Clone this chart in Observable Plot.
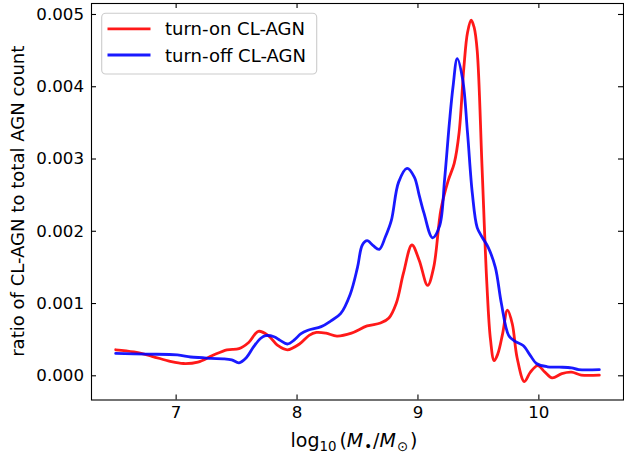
<!DOCTYPE html>
<html>
<head>
<meta charset="utf-8">
<script src="https://cdn.jsdelivr.net/npm/d3@7"></script>
<script src="https://cdn.jsdelivr.net/npm/@observablehq/plot@0.6"></script>
<style>
  html, body { margin: 0; padding: 0; background: white; }
</style>
</head>
<body>
<div id="chart"></div>
<script>
// ---- data (ratio values in units of 1e-3) ----
const seriesNames = ["turn-on CL-AGN", "turn-off CL-AGN"];
const seriesColors = ["#ff0000", "#0000ff"];

const turnOnMass = [6.50, 6.65, 6.80, 6.95, 7.06, 7.18, 7.30, 7.42, 7.52, 7.60, 7.68, 7.76, 7.84, 7.92, 8.02, 8.10, 8.16, 8.24, 8.33, 8.45, 8.58, 8.69, 8.76, 8.82, 8.88, 8.95, 9.01, 9.08, 9.13, 9.19, 9.25, 9.30, 9.34, 9.38, 9.41, 9.44, 9.465, 9.49, 9.53, 9.57, 9.60, 9.63, 9.66, 9.70, 9.74, 9.78, 9.82, 9.88, 9.93, 9.99, 10.05, 10.11, 10.19, 10.27, 10.35, 10.50];
const turnOnRatio = [0.36, 0.33, 0.27, 0.20, 0.17, 0.19, 0.28, 0.36, 0.375, 0.46, 0.615, 0.56, 0.42, 0.36, 0.44, 0.56, 0.60, 0.59, 0.55, 0.59, 0.69, 0.73, 0.80, 1.00, 1.42, 1.81, 1.60, 1.25, 1.50, 2.30, 2.70, 2.94, 3.36, 4.27, 4.75, 4.92, 4.82, 4.50, 2.89, 1.27, 0.50, 0.21, 0.30, 0.58, 0.91, 0.72, 0.25, -0.08, 0.05, 0.14, 0.05, -0.03, 0.03, 0.05, 0.01, 0.01];

const turnOffMass = [6.50, 6.75, 7.01, 7.12, 7.22, 7.29, 7.39, 7.46, 7.52, 7.58, 7.64, 7.70, 7.74, 7.81, 7.86, 7.92, 7.98, 8.03, 8.09, 8.20, 8.28, 8.36, 8.44, 8.50, 8.54, 8.58, 8.63, 8.68, 8.73, 8.78, 8.84, 8.91, 8.97, 9.01, 9.05, 9.12, 9.18, 9.22, 9.26, 9.29, 9.325, 9.37, 9.41, 9.45, 9.49, 9.53, 9.58, 9.64, 9.69, 9.75, 9.80, 9.87, 9.93, 9.98, 10.07, 10.17, 10.27, 10.33, 10.50];
const turnOffRatio = [0.31, 0.30, 0.29, 0.26, 0.25, 0.24, 0.235, 0.22, 0.18, 0.25, 0.40, 0.52, 0.555, 0.54, 0.49, 0.44, 0.50, 0.58, 0.63, 0.68, 0.76, 0.86, 1.13, 1.50, 1.81, 1.87, 1.80, 1.75, 1.92, 2.15, 2.68, 2.87, 2.75, 2.50, 2.25, 1.91, 2.08, 2.71, 3.50, 4.00, 4.39, 4.10, 3.36, 2.52, 2.05, 1.92, 1.78, 1.50, 1.00, 0.56, 0.48, 0.42, 0.28, 0.17, 0.125, 0.12, 0.11, 0.085, 0.085];

const xTicks = [7, 8, 9, 10];
const yTicks = [0, 0.001, 0.002, 0.003, 0.004, 0.005];

// ---- build table ----
const scaleUnit = 1e-3;
const turnOn = turnOnMass.map((m, i) => ({mass: m, ratio: turnOnRatio[i] * scaleUnit}));
const turnOff = turnOffMass.map((m, i) => ({mass: m, ratio: turnOffRatio[i] * scaleUnit}));

const W = 624, H = 457;
const mL = 91, mR = 1, mT = 3, mB = 57.5;
const innerW = W - mL - mR, innerH = H - mT - mB;
const tickLen = 5;

const svg = Plot.plot({
  width: W, height: H,
  marginLeft: mL, marginRight: mR, marginTop: mT, marginBottom: mB,
  x: {domain: [6.3, 10.7]},
  y: {domain: [-0.000335, 0.005152]},
  style: {fontFamily: "DejaVu Sans", fontSize: "16.67px", color: "black", background: "white", overflow: "visible"},
  marks: [
    Plot.line(turnOn, {x: "mass", y: "ratio", stroke: seriesColors[0], strokeWidth: 2.8, strokeOpacity: 0.9, curve: "catmull-rom"}),
    Plot.line(turnOff, {x: "mass", y: "ratio", stroke: seriesColors[1], strokeWidth: 2.8, strokeOpacity: 0.9, curve: "catmull-rom"}),
    // inward ticks on all four sides
    Plot.tickX(xTicks, {x: d => d, insetTop: innerH - tickLen, stroke: "black", strokeWidth: 1.1}),
    Plot.tickX(xTicks, {x: d => d, insetBottom: innerH - tickLen, stroke: "black", strokeWidth: 1.1}),
    Plot.tickY(yTicks, {y: d => d, insetRight: innerW - tickLen, stroke: "black", strokeWidth: 1.1}),
    Plot.tickY(yTicks, {y: d => d, insetLeft: innerW - tickLen, stroke: "black", strokeWidth: 1.1}),
    Plot.axisX(xTicks, {tickSize: 0, tickPadding: 6, label: null, tickFormat: d => String(d)}),
    Plot.axisY(yTicks, {tickSize: 0, tickPadding: 7.5, label: null, tickFormat: d3.format(".3f")}),
    Plot.frame({stroke: "black", strokeWidth: 1.1})
  ]
});

const s = d3.select(svg);
const font = "DejaVu Sans";

// y label
s.append("text")
  .attr("transform", `translate(24,${mT + innerH / 2}) rotate(-90)`)
  .attr("text-anchor", "middle")
  .attr("font-family", font)
  .attr("font-size", 18.06)
  .attr("fill", "black")
  .text("ratio of CL-AGN to total AGN count");

// x label: log10(M•/M⊙)
const xl = s.append("text")
  .attr("x", mL + innerW / 2 - 3)
  .attr("y", 447)
  .attr("text-anchor", "middle")
  .attr("font-family", font)
  .attr("font-size", 19)
  .attr("fill", "black");
xl.append("tspan").text("log");
xl.append("tspan").attr("font-size", 13.3).attr("dy", 4).text("10");
xl.append("tspan").attr("dy", -4).attr("dx", 3).text("(");
xl.append("tspan").attr("font-style", "italic").text("M");
xl.append("tspan").attr("font-size", 13.3).attr("dy", 4).attr("dx", 1).text("•");
xl.append("tspan").attr("dy", -4).attr("dx", 1).text("/");
xl.append("tspan").attr("font-style", "italic").text("M");
xl.append("tspan").attr("font-size", 13.3).attr("dy", 4).attr("dx", 1).text("⊙");
xl.append("tspan").attr("dy", -4).attr("dx", 2).text(")");

// legend
const lg = s.append("g");
lg.append("rect")
  .attr("x", 101.7).attr("y", 13.3).attr("width", 215).attr("height", 60.7)
  .attr("rx", 4).attr("ry", 4)
  .attr("fill", "white").attr("fill-opacity", 0.8)
  .attr("stroke", "#cccccc").attr("stroke-width", 1.1);
const rowsY = [28.8, 55];
seriesNames.forEach((name, i) => {
  lg.append("line")
    .attr("x1", 107.5).attr("x2", 150.5)
    .attr("y1", rowsY[i]).attr("y2", rowsY[i])
    .attr("stroke", seriesColors[i]).attr("stroke-opacity", 0.9).attr("stroke-width", 2.8);
  lg.append("text")
    .attr("x", 165).attr("y", rowsY[i] + 6.6)
    .attr("text-anchor", "start")
    .attr("font-family", font).attr("font-size", 18.06).attr("fill", "black")
    .text(name);
});

document.getElementById("chart").appendChild(svg);
</script>
</body>
</html>
